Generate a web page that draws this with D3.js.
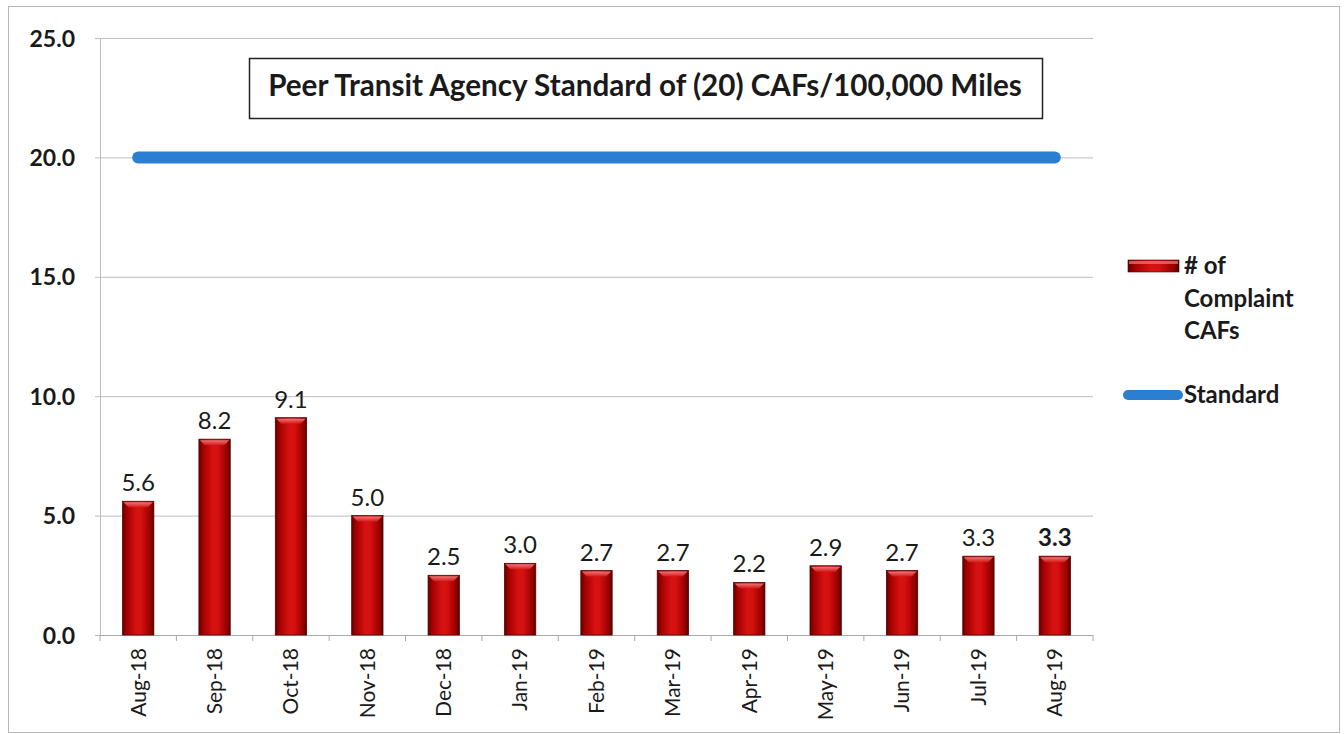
<!DOCTYPE html>
<html>
<head>
<meta charset="utf-8">
<script src="https://cdn.jsdelivr.net/npm/d3@7"></script>
<style>
  html, body { margin: 0; padding: 0; background: #fff; }
  svg { display: block; }
  text { font-family: Lato, "Open Sans", sans-serif; fill: #1a1a1a; }
</style>
</head>
<body>
<svg id="chart" width="1344" height="734"></svg>
<script>
// Monthly complaint CAFs per 100,000 miles against the peer standard
const months = ["Aug-18", "Sep-18", "Oct-18", "Nov-18", "Dec-18", "Jan-19", "Feb-19",
                "Mar-19", "Apr-19", "May-19", "Jun-19", "Jul-19", "Aug-19"];
const complaintCAFs = [5.6, 8.2, 9.1, 5.0, 2.5, 3.0, 2.7, 2.7, 2.2, 2.9, 2.7, 3.3, 3.3];
const standard = [20, 20, 20, 20, 20, 20, 20, 20, 20, 20, 20, 20, 20];
const yTicks = [0, 5, 10, 15, 20, 25];
const titleText = "Peer Transit Agency Standard of (20) CAFs/100,000 Miles";
const legendBars = ["# of", "Complaint", "CAFs"];
const legendLine = "Standard";

const svg = d3.select("#chart");
const plot = { left: 100, right: 1093, top: 38, bottom: 635 };

const x = d3.scaleBand()
  .domain(months)
  .range([plot.left, plot.right])
  .paddingInner(0.59)
  .paddingOuter(0.295);

const y = d3.scaleLinear()
  .domain([0, 25])
  .range([plot.bottom, plot.top]);

// Outer frame
svg.append("rect")
  .attr("x", 8.5).attr("y", 6.5)
  .attr("width", 1331).attr("height", 726)
  .attr("fill", "none").attr("stroke", "#b8b8b8").attr("stroke-width", 1);

// Bar gradient
const defs = svg.append("defs");
const g = defs.append("linearGradient").attr("id", "barFill")
  .attr("x1", "0%").attr("x2", "100%").attr("y1", "0%").attr("y2", "0%");
[["0%", "#5e0000"], ["12%", "#a00000"], ["45%", "#d81212"], ["60%", "#d41010"],
 ["88%", "#9c0000"], ["100%", "#560000"]].forEach(([o, c]) =>
  g.append("stop").attr("offset", o).attr("stop-color", c));
const cap = defs.append("linearGradient").attr("id", "capFill")
  .attr("x1", "0%").attr("x2", "0%").attr("y1", "0%").attr("y2", "100%");
[["0%", "#f38a8a"], ["100%", "#d61a1a"]].forEach(([o, c]) =>
  cap.append("stop").attr("offset", o).attr("stop-color", c));

// Horizontal gridlines with short ticks to the left of the axis
const yAxis = d3.axisLeft(y)
  .tickValues(yTicks)
  .tickSize(-(plot.right - plot.left))
  .tickFormat(d3.format(".1f"));
const yG = svg.append("g")
  .attr("transform", `translate(${plot.left},0)`)
  .call(yAxis);
yG.select(".domain").remove();
yG.selectAll(".tick line")
  .attr("x1", -5)
  .attr("stroke", "#bdbdbd");
yG.selectAll(".tick text")
  .attr("x", -25)
  .attr("dy", "0.35em")
  .style("font-size", "23px")
  .style("font-weight", "bold")
  .attr("fill", "#1a1a1a");

// Vertical value axis line
svg.append("line")
  .attr("x1", plot.left + 0.5).attr("x2", plot.left + 0.5)
  .attr("y1", plot.top).attr("y2", plot.bottom)
  .attr("stroke", "#bdbdbd");

// Title box
svg.append("rect")
  .attr("x", 249.5).attr("y", 58.5)
  .attr("width", 793).attr("height", 60)
  .attr("fill", "#fff").attr("stroke", "#222").attr("stroke-width", 1.5);
const title = svg.append("text")
  .attr("x", 645).attr("y", 96)
  .attr("text-anchor", "middle")
  .style("font-size", "22px")
  .style("font-weight", "bold")
  .text(titleText);
const tw = title.node().getComputedTextLength();
title.style("font-size", (22 * 754 / tw).toFixed(2) + "px");

// Category axis
const xAxis = d3.axisBottom(x).tickSize(0).tickFormat(d => d);
const xG = svg.append("g")
  .attr("transform", `translate(0,${plot.bottom})`)
  .call(xAxis);
xG.select(".domain").attr("stroke", "#a8a8a8").attr("d", `M${plot.left},0.5H${plot.right}`);
xG.selectAll(".tick text")
  .attr("transform", "rotate(-90)")
  .attr("x", -13)
  .attr("y", 0)
  .attr("dy", "0.35em")
  .attr("text-anchor", "end")
  .style("font-size", "21px")
  .attr("fill", "#1a1a1a");
// Tick marks between categories
const step = x.step();
const bounds = d3.range(months.length + 1).map(i => plot.left + i * step);
svg.append("g").selectAll("line")
  .data(bounds)
  .join("line")
  .attr("x1", d => d).attr("x2", d => d)
  .attr("y1", plot.bottom).attr("y2", plot.bottom + 6)
  .attr("stroke", "#a8a8a8");

// Bars
const bars = svg.append("g");
bars.selectAll("rect.bar")
  .data(complaintCAFs)
  .join("rect")
  .attr("class", "bar")
  .attr("x", (d, i) => x(months[i]))
  .attr("y", d => y(d))
  .attr("width", x.bandwidth())
  .attr("height", d => y(0) - y(d))
  .attr("fill", "url(#barFill)")
  .attr("stroke", "#5a0000")
  .attr("stroke-width", 0.8);
bars.selectAll("path.cap")
  .data(complaintCAFs)
  .join("path")
  .attr("class", "cap")
  .attr("d", (d, i) => {
    const x0 = x(months[i]), w = x.bandwidth(), t = y(d);
    return `M${x0 + 1},${t + 1}H${x0 + w - 1}L${x0 + w - 6},${t + 6}H${x0 + 6}Z`;
  })
  .attr("fill", "url(#capFill)")
  .attr("opacity", 0.85);

// Value labels
svg.append("g").selectAll("text")
  .data(complaintCAFs)
  .join("text")
  .attr("x", (d, i) => x(months[i]) + x.bandwidth() / 2)
  .attr("y", d => y(d) - 10)
  .attr("text-anchor", "middle")
  .style("font-size", "24px")
  .style("font-weight", (d, i) => i === months.length - 1 ? "bold" : "normal")
  .text(d => d.toFixed(1));

// Standard line
const line = d3.line()
  .x((d, i) => x(months[i]) + x.bandwidth() / 2)
  .y(d => y(d));
svg.append("path")
  .datum(standard)
  .attr("d", line)
  .attr("fill", "none")
  .attr("stroke", "#2a7fd2")
  .attr("stroke-width", 12)
  .attr("stroke-linecap", "round");

// Legend
const lg = svg.append("g");
lg.append("rect")
  .attr("x", 1128).attr("y", 260)
  .attr("width", 51).attr("height", 12)
  .attr("fill", "url(#barFill)")
  .attr("stroke", "#5a0000").attr("stroke-width", 0.6);
lg.append("rect")
  .attr("x", 1129).attr("y", 261)
  .attr("width", 49).attr("height", 3)
  .attr("fill", "#f07a7a").attr("opacity", 0.7);
lg.selectAll("text.bl")
  .data(legendBars)
  .join("text")
  .attr("class", "bl")
  .attr("x", 1184)
  .attr("y", (d, i) => 274 + i * 32.5)
  .style("font-size", "24px")
  .style("font-weight", "bold")
  .text(d => d);
lg.append("line")
  .attr("x1", 1128).attr("x2", 1178)
  .attr("y1", 395).attr("y2", 395)
  .attr("stroke", "#2a7fd2")
  .attr("stroke-width", 10)
  .attr("stroke-linecap", "round");
lg.append("text")
  .attr("x", 1184).attr("y", 403)
  .style("font-size", "24px")
  .style("font-weight", "bold")
  .text(legendLine);
</script>
</body>
</html>
